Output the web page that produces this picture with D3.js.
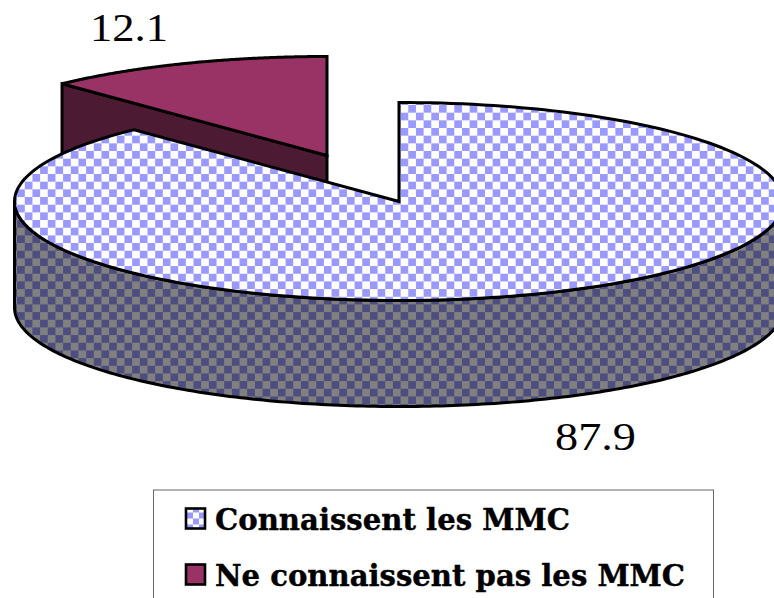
<!DOCTYPE html>
<html><head><meta charset="utf-8">
<script src="https://cdnjs.cloudflare.com/ajax/libs/d3/7.8.5/d3.min.js"></script>
<style>html,body{margin:0;padding:0;background:#fff;overflow:hidden}svg{display:block}text{font-family:"DejaVu Serif",serif;fill:#000}</style>
</head><body><script>
const categories = ["Connaissent les MMC", "Ne connaissent pas les MMC"];
const values = [87.9, 12.1];
const valueLabels = ["87.9", "12.1"];

const W = 774, H = 598;
const cx = 399, cy = 201.5, rx = 384.5, ry = 99, depth = 106;
const explode = {x: -72, y: -46};

const svg = d3.select("body").append("svg").attr("width", W).attr("height", H);
const defs = svg.append("defs");
function checker(id, a, b, ox, oy, s) {
  const p = defs.append("pattern").attr("id", id).attr("patternUnits", "userSpaceOnUse")
    .attr("width", s * 2).attr("height", s * 2)
    .attr("patternTransform", `translate(${ox},${oy})`);
  p.append("rect").attr("width", s * 2).attr("height", s * 2).attr("fill", a);
  p.append("rect").attr("width", s).attr("height", s).attr("fill", b);
  p.append("rect").attr("x", s).attr("y", s).attr("width", s).attr("height", s).attr("fill", b);
}
checker("top", "#ffffff", "#9999ff", 400.6, 112.67, 7.67);
checker("side", "#808080", "#4d4d80", 400.6, 112.67, 7.67);
checker("mark", "#ffffff", "#9999ff", 187, 510, 6);

const arcs = d3.pie().sort(null)(values);
const pt = (t, dx = 0, dy = 0) => [cx + dx + rx * Math.sin(t), cy + dy - ry * Math.cos(t)];
const line = d3.line();
const samples = (a, b, dx = 0, dy = 0) => d3.range(0, 201).map(i => pt(a + (b - a) * i / 200, dx, dy));
const stroke = g => g.attr("stroke", "#000").attr("stroke-width", 3).attr("stroke-linejoin", "miter");

// exploded slice: visible cut face, then top
const sl = arcs[1];
svg.append("path").call(stroke).attr("fill", "#4d1a33")
  .attr("d", line([pt(sl.startAngle, explode.x, explode.y), [cx + explode.x, cy + explode.y],
    [cx + explode.x, cy + explode.y + depth], pt(sl.startAngle, explode.x, explode.y + depth)]) + "Z");
svg.append("path").call(stroke).attr("fill", "#993366")
  .attr("d", line([[cx + explode.x, cy + explode.y], ...samples(sl.startAngle, sl.endAngle, explode.x, explode.y)]) + "Z");

// main slice: outer wall, then top
const mn = arcs[0];
const wall = samples(Math.PI / 2, mn.endAngle > 3 * Math.PI / 2 ? 3 * Math.PI / 2 : mn.endAngle);
svg.append("path").call(stroke).attr("fill", "url(#side)")
  .attr("d", line([...wall, ...wall.slice().reverse().map(p => [p[0], p[1] + depth])]) + "Z");
svg.append("path").call(stroke).attr("fill", "url(#top)")
  .attr("d", line([[cx, cy], ...samples(mn.startAngle, mn.endAngle)]) + "Z");

// value labels
const labelPos = [[555, 450], [90, 41]];
svg.selectAll("text.val").data(valueLabels).join("text").attr("class", "val")
  .attr("x", (d, i) => labelPos[i][0]).attr("y", (d, i) => labelPos[i][1])
  .attr("font-size", 41).style("font-family", "'Liberation Serif',serif")
  .attr("textLength", (d, i) => i === 0 ? 81 : 78)
  .attr("lengthAdjust", "spacingAndGlyphs").text(d => d);

// legend
svg.append("rect").attr("x", 153.5).attr("y", 490).attr("width", 560).attr("height", 130)
  .attr("fill", "#fff").attr("stroke", "#666").attr("stroke-width", 1);
const legY = d3.scalePoint().domain(categories).range([518.5, 574.5]);
const lg = svg.selectAll("g.leg").data(categories).join("g").attr("class", "leg")
  .attr("transform", d => `translate(0,${legY(d)})`);
lg.append("rect").attr("x", 186).attr("y", -10).attr("width", 19).attr("height", 20)
  .attr("stroke", "#000").attr("stroke-width", 2.6)
  .attr("fill", (d, i) => i === 0 ? "url(#mark)" : "#993366");
lg.append("text").attr("x", 215).attr("y", 11).attr("font-size", 29).attr("font-weight", "bold")
  .attr("stroke", "#000").attr("stroke-width", 0.4)
  .attr("textLength", (d, i) => i === 0 ? 355 : 470).attr("lengthAdjust", "spacingAndGlyphs").text(d => d);
</script></body></html>
